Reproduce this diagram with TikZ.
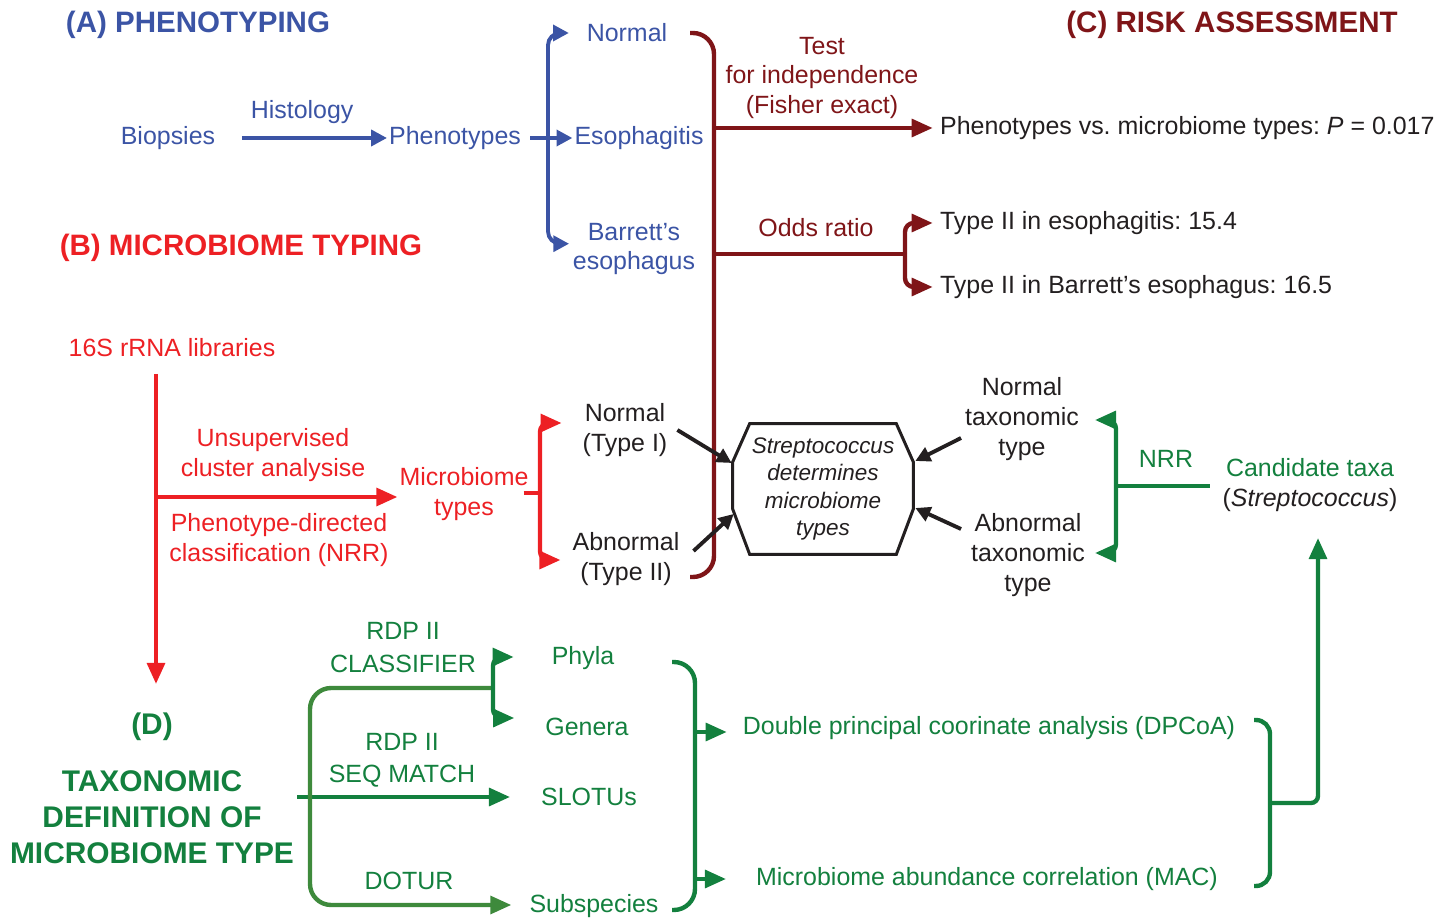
\documentclass[tikz,border=0pt]{standalone}
\usepackage{fontspec}
\setmainfont{Liberation Sans}
\usetikzlibrary{calc,positioning,arrows.meta}
\frenchspacing
\definecolor{phblue}{RGB}{59,84,165}
\definecolor{riskred}{RGB}{127,21,24}
\definecolor{mtred}{RGB}{237,32,36}
\definecolor{taxgreen}{RGB}{19,128,62}
\definecolor{loopgreen}{RGB}{62,138,60}
\definecolor{ink}{RGB}{35,31,32}
\tikzset{
  txt/.style={inner sep=1pt, align=center, font=\fontsize{14.2}{17}\selectfont},
  hd/.style={inner sep=1pt, align=center, font=\fontsize{16.8}{20.5}\selectfont\bfseries},
  wire/.style={line width=2.5pt},
  arr/.style={wire, -{Triangle[length=12pt,width=10pt]}},
  blarr/.style={line width=2.2pt, -{Triangle[length=9pt,width=9pt]}},
  pointer/.style={line width=2.2pt, ink, -{Triangle[length=8.5pt,width=8.5pt]}},
}
\begin{document}
\begin{tikzpicture}[x=0.02cm, y=-0.02cm]
\useasboundingbox (0,0) rectangle (1454,918);

\node (headA) [hd, phblue] at (198,25) {(A) PHENOTYPING};
\node (biop) [txt, phblue] at (168,138) {Biopsies};
\node (phen) [txt, phblue] at (455,138) {Phenotypes};
\node (normal) [txt, phblue] at (627,33) {Normal};
\node (esoph) [txt, phblue] at (639,138) {Esophagitis};
\node (barr) [txt, phblue] at (634,249) {Barrett’s\\esophagus};
\coordinate (bsplit) at (548,138);

\node (headC) [hd, riskred] at (1232,25) {(C) RISK ASSESSMENT};
\node (fisher) [txt, riskred] at (822,78) {Test\\for independence\\(Fisher exact)};
\node (odds) [txt, riskred] at (816,228) {Odds ratio};
\node (pvs) [txt, ink, anchor=west] at (938,128) {Phenotypes vs. microbiome types: \textit{P} = 0.017};
\node (t2eso) [txt, ink, anchor=west] at (938,223) {Type II in esophagitis: 15.4};
\node (t2bar) [txt, ink, anchor=west] at (938,287) {Type II in Barrett’s esophagus: 16.5};
\coordinate (rtop) at (690,33);
\coordinate (rbot) at (690,577);
\coordinate (rtest) at (714,128);
\coordinate (rodds) at (714,254);
\coordinate (osplit) at (905,254);

\node (headB) [hd, mtred] at (241,248) {(B) MICROBIOME TYPING};
\node (libs) [txt, mtred] at (172,348) {16S rRNA libraries};
\node (unsup) [txt, mtred] at (273,455) {Unsupervised\\cluster analysise};
\node (pdc) [txt, mtred] at (279,540) {Phenotype-directed\\classification (NRR)};
\node (mtypes) [txt, mtred] at (464,494) {Microbiome\\types};
\node (typeI) [txt, ink] at (625,430) {Normal\\(Type I)};
\node (typeII) [txt, ink] at (626,559) {Abnormal\\(Type II)};
\coordinate (rtrunk) at (156,374);
\coordinate (rend) at (156,684);
\coordinate (rmid) at (156,497);
\coordinate (msplit) at (540,493);

\node (hyp) [minimum width=3.6cm, minimum height=2.6cm, inner sep=0pt, align=center, text=ink, font=\fontsize{12.8}{15.4}\selectfont\itshape] at (823,489) {Streptococcus\\determines\\microbiome\\types};
\node (ntax) [txt, ink] at (1022,419) {Normal\\taxonomic\\type};
\node (atax) [txt, ink] at (1028,555) {Abnormal\\taxonomic\\type};
\node (nrr) [txt, taxgreen] at (1166,459) {NRR};
\node (cand) [txt, taxgreen] at (1310,485) {Candidate taxa\\\textcolor{ink}{(\textit{Streptococcus})}};
\coordinate (gsplit) at (1116,486);
\coordinate (gbend) at (1270,803);
\coordinate (gtip) at (1318,538);

\node (headD) [hd, taxgreen, font=\fontsize{17}{20.5}\selectfont\bfseries] at (152,727) {(D)};
\node (taxdef) [hd, taxgreen, font=\fontsize{17}{20.5}\selectfont\bfseries] at (152,817) {TAXONOMIC\\DEFINITION OF\\MICROBIOME TYPE};
\node (rdpc) [txt, taxgreen, font=\fontsize{14.2}{18.8}\selectfont] at (403,648) {RDP II\\CLASSIFIER};
\node (rdps) [txt, taxgreen, font=\fontsize{14.2}{18.2}\selectfont] at (402,760) {RDP II\\SEQ MATCH};
\node (dotur) [txt, taxgreen] at (409,881) {DOTUR};
\node (phyla) [txt, taxgreen] at (583,658) {Phyla};
\node (genera) [txt, taxgreen] at (587,727) {Genera};
\node (slotus) [txt, taxgreen] at (589,797) {SLOTUs};
\node (subsp) [txt, taxgreen] at (594,906) {Subspecies};
\node (dpcoa) [txt, taxgreen] at (989,728) {Double principal coorinate analysis (DPCoA)};
\node (mac) [txt, taxgreen] at (987,879) {Microbiome abundance correlation (MAC)};
\coordinate (lstart) at (297,797);
\coordinate (loopx) at (310,797);
\coordinate (csplit) at (493,688);
\coordinate (brtop) at (672,662);
\coordinate (brbot) at (672,910);
\coordinate (brA) at (695,732);
\coordinate (brB) at (695,879);
\coordinate (bbtop) at (1254,720);
\coordinate (bbbot) at (1254,886);

\draw[blarr, phblue, shorten <=14pt] (biop) -- node[txt, above=6pt] {Histology} (phen);
\draw[blarr, phblue, shorten <=4pt] (phen) -- (esoph);
\draw[blarr, phblue, rounded corners=7pt] (bsplit) |- ([xshift=-9pt]normal.west);
\draw[blarr, phblue, rounded corners=7pt] (bsplit) |- ([xshift=-1pt,yshift=3pt]barr.west);

\draw[wire, riskred, rounded corners=12pt] (rtop) -| (rodds) |- (rbot);
\draw[arr, riskred] (rtest) -- ([xshift=-3pt]pvs.west);
\draw[wire, riskred] (rodds) -- (osplit);
\draw[arr, riskred, rounded corners=5pt] (osplit) |- ([xshift=-3pt]t2eso.west);
\draw[arr, riskred, rounded corners=5pt] (osplit) |- ([xshift=-3pt]t2bar.west);

\draw[arr, mtred] (rtrunk) -- (rend);
\draw[arr, mtred] (rmid) -- (rmid -| mtypes.west);
\draw[wire, mtred, shorten <=-4pt] (mtypes.east |- msplit) -- (msplit);
\draw[arr, mtred, rounded corners=5pt] (msplit) |- ($(typeI.west)+(-19,-7)$);
\draw[arr, mtred, rounded corners=5pt] (msplit) |- ($(typeII.west)+(-10,1)$);

\draw[ink, line width=1.7pt] ($(hyp.north west)+(17,0)$) -- ($(hyp.north east)+(-17,0)$) -- ($(hyp.east)+(0,-27)$) -- ($(hyp.east)+(0,20)$) -- ($(hyp.south east)+(-17,0)$) -- ($(hyp.south west)+(17,0)$) -- ($(hyp.west)+(0,20)$) -- ($(hyp.west)+(0,-27)$) -- cycle;
\draw[pointer] ($(typeI.east)+(8,0)$) -- ($(hyp.west)+(-1,-26)$);
\draw[pointer] ($(typeII.east)+(12,-8)$) -- ($(hyp.west)+(1,25)$);
\draw[pointer] ($(ntax.west)+(-2,19)$) -- ($(hyp.east)+(2,-28)$);
\draw[pointer] ($(atax.west)+(-8,-26)$) -- ($(hyp.east)+(2,19)$);

\draw[arr, taxgreen, rounded corners=5pt] (gsplit) |- ($(ntax.east)+(14,1)$);
\draw[arr, taxgreen, rounded corners=5pt] (gsplit) |- ($(atax.east)+(8,-2)$);
\draw[wire, taxgreen, shorten >=6pt] (gsplit) -- (gsplit -| cand.west);

\draw[arr, taxgreen] (lstart) -- ($(slotus.west)+(-29,0)$);
\draw[arr, loopgreen, rounded corners=12pt] (csplit) -| (loopx) |- ($(subsp.west)+(-16,-1)$);
\draw[arr, taxgreen, rounded corners=5pt] (csplit) |- ($(phyla.west)+(-36,-1)$);
\draw[arr, taxgreen, rounded corners=5pt] (csplit) |- ($(genera.west)+(-29,-9)$);
\draw[wire, taxgreen, rounded corners=12pt] (brtop) -| (brA) |- (brbot);
\draw[arr, taxgreen] (brA) -- ($(dpcoa.west)+(-14,4)$);
\draw[arr, taxgreen] (brB) -- ($(mac.west)+(-28,0)$);
\draw[wire, taxgreen, rounded corners=8pt] (bbtop) -| (gbend) |- (bbbot);
\draw[arr, taxgreen, rounded corners=4pt] (gbend) -| (gtip);
\end{tikzpicture}
\end{document}
